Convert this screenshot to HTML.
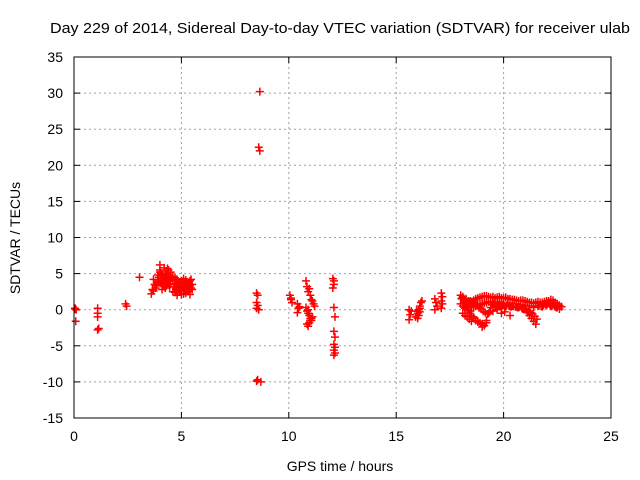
<!DOCTYPE html>
<html><head><meta charset="utf-8"><style>
body{margin:0;background:#fff}
svg{display:block;font-family:"Liberation Sans",sans-serif}
</style></head><body>
<svg id="c" width="640" height="480">
<text x="340" y="33" font-size="15" text-anchor="middle" textLength="580" lengthAdjust="spacingAndGlyphs">Day 229 of 2014, Sidereal Day-to-day VTEC variation (SDTVAR) for receiver ulab</text>
<text x="340" y="471" font-size="14" text-anchor="middle">GPS time / hours</text>
<text transform="translate(20,238) rotate(-90)" font-size="14" text-anchor="middle">SDTVAR / TECUs</text>
<g id="grid"></g><g id="ticks"></g><g id="marks"></g>
<rect x="74" y="57" width="537" height="361" fill="none" stroke="#000"/>
</svg>
<script>
const xTicks=[0,5,10,15,20,25];
const yTicks=[-15,-10,-5,0,5,10,15,20,25,30,35];
const hours=[0.05,0.1,0.05,0.08,
1.1,1.1,1.1,1.15,1.1,
2.4,2.45,3.05,
3.6,3.7,3.75,3.8,3.9,3.95,4.0,4.0,4.05,4.1,4.1,4.15,4.2,4.2,4.25,4.3,4.3,4.35,4.4,4.4,4.45,4.5,4.5,3.7,3.85,4.0,4.2,4.35,4.45,3.65,3.8,4.6,4.1,4.25,
3.9,4.0,4.1,4.2,4.3,4.4,4.5,4.55,3.95,4.05,4.15,4.25,4.35,4.45,
4.6,4.7,4.8,4.9,5.0,5.1,5.2,5.3,5.4,5.5,4.65,4.75,4.85,4.95,5.05,5.15,5.25,5.35,5.45,4.7,4.9,5.1,5.3,5.5,4.8,5.0,5.2,5.4,4.6,5.45,
4.7,4.8,4.9,5.0,5.1,5.2,5.3,5.4,4.75,4.95,5.15,5.35,
8.5,8.55,8.5,8.55,8.5,8.6,8.65,8.6,8.65,8.7,8.55,8.5,
10.05,10.1,10.15,10.1,10.4,10.45,10.4,10.5,
10.8,10.85,10.9,10.95,11.0,11.05,11.1,11.15,11.2,10.85,10.9,10.95,11.0,11.05,11.1,10.85,10.9,10.95,11.0,11.05,10.8,10.9,
12.05,12.1,12.1,12.05,12.1,12.15,12.1,12.15,12.1,12.15,12.1,12.15,12.1,
15.6,15.65,15.6,15.7,15.9,16.0,16.05,16.1,16.15,16.2,16.0,16.05,16.1,15.95,16.1,
16.8,16.85,16.9,16.8,17.1,17.15,17.1,17.15,17.1,
18.0,18.05,18.1,18.15,18.2,18.25,18.3,18.35,18.4,18.5,18.6,18.7,18.8,18.9,19.0,19.1,19.2,19.3,19.4,19.5,19.6,19.7,19.8,19.9,20.0,20.1,20.2,20.3,20.4,20.5,20.6,20.7,20.8,20.9,21.0,21.1,21.2,21.3,21.4,21.5,21.6,21.7,21.8,21.9,22.0,22.1,22.2,22.3,22.4,22.5,22.6,22.7,
18.0,18.1,18.2,18.3,18.4,18.5,18.6,18.7,18.8,18.9,19.0,19.1,19.2,19.3,19.4,19.5,19.6,19.7,19.8,19.9,20.0,20.2,20.4,20.6,20.8,21.0,21.2,21.4,21.6,21.8,22.0,22.2,22.4,22.6,
18.2,18.3,18.4,18.5,18.6,18.7,18.8,18.9,19.0,19.1,19.2,19.3,19.5,19.7,19.9,20.1,20.4,20.7,20.9,21.1,21.2,21.3,21.4,21.5,
18.1,18.2,18.3,18.4,18.5,18.6,18.8,19.0,19.2,19.4,19.6,19.8,20.0,20.3,20.6,21.0,21.4,21.8,22.2,22.5,
18.05,18.15,18.25,18.35,18.45,19.9,20.05,20.3,
19.45,19.55,19.65,19.75,19.85,19.95,20.05,20.15,20.25,20.35,20.45,20.55,20.65,20.75,20.85,20.95,21.05,21.15,21.25,21.35,21.45,21.55,21.65,21.75,21.85,21.95,22.05,22.15,22.25,22.35,22.45,
18.45,18.55,18.65,18.75,18.85,18.95,19.05,19.15,19.25,19.35];
const values=[0.2,0,0.1,-1.6,
0.2,-0.5,-1,-2.6,-2.8,
0.8,0.5,4.5,
2.2,2.6,3.5,3.0,4.0,4.5,6.2,5.5,5.0,4.2,3.6,4.5,5.8,3.2,4.8,4.0,3.3,5.7,5.5,4.0,3.2,5.2,3.5,4.2,3.3,3.8,3.4,4.5,3.6,2.8,3.4,4.6,2.8,3.0,
4.8,5.2,5.0,4.6,5.0,4.8,4.6,4.4,3.8,4.0,3.8,3.6,3.8,4.0,
4.0,4.4,4.2,3.8,4.0,4.3,4.1,3.8,4.0,3.5,3.2,2.8,3.0,3.4,3.3,2.9,3.1,2.8,3.0,2.4,2.6,2.2,2.5,2.8,2.0,2.1,2.3,2.1,2.5,4.2,
3.6,3.5,3.3,3.6,3.5,3.4,3.6,3.3,2.5,2.6,2.7,2.6,
2.3,2.0,1.0,0.6,0.2,0,30.2,22.5,22,-10,-9.7,-9.9,
2.0,1.4,1.0,1.6,0.8,0.2,-0.4,0.4,
4.0,3.2,2.5,2.9,2.0,1.4,1.2,0.8,0.5,-0.2,0,-0.8,-1.2,-1.5,-1.0,-2.0,-2.3,-1.8,-1.5,-1.2,0.3,-0.5,
4.3,4.0,3.5,3.0,0.3,-1.0,-3.0,-3.8,-4.8,-5.2,-5.6,-6.0,-6.3,
0,-0.7,-1.4,-0.2,-1.0,-0.5,0,0.5,1.0,1.2,-1.2,-0.8,-0.3,-0.2,0.2,
1.5,1.0,0.5,0,2.3,1.8,1.2,0.8,0.2,
2.0,1.6,1.8,1.4,1.2,1.5,1.0,1.2,0.9,1.1,1.3,1.5,1.6,1.7,1.8,1.9,1.9,1.8,1.7,1.8,1.6,1.7,1.8,1.6,1.6,1.7,1.5,1.5,1.4,1.4,1.3,1.2,1.3,1.3,1.2,1.1,1.0,1.0,0.9,1.0,1.1,1.0,1.0,1.1,1.2,1.2,1.4,1.3,1.0,0.8,0.6,0.4,
0.8,0.5,0.2,0.4,0.7,0.5,0.3,0.5,0.6,0.7,0.8,0.9,1.0,1.1,1.1,1.0,1.0,1.0,1.0,1.0,0.9,0.9,0.8,0.8,0.7,0.6,0.5,0.4,0.5,0.6,0.6,0.6,0.4,0.1,
0.2,0,-0.5,-0.8,-1.2,-1.5,-1.7,-1.8,-2.0,-2.2,-1.8,-0.5,-0.2,0,0.2,0.4,0.5,0.3,0.1,-0.4,-0.8,-1.2,-1.6,-2.0,
-0.5,-0.8,-1.0,-1.3,-1.6,-1.0,-1.6,-2.4,-1.5,0.3,0.4,0.5,0.6,0.5,0.4,0.2,0.3,0.4,0.5,0.3,
1.5,1.0,0.5,0.0,-0.2,-0.5,-0.3,-0.8,
0.7,0.8,0.6,0.7,0.6,0.6,0.5,0.6,0.5,0.4,0.5,0.4,0.3,0.4,0.2,0.1,0.0,-0.2,-0.4,-0.6,-0.9,-1.3,0.6,0.5,0.6,0.7,0.8,0.7,0.5,0.6,0.3,
1.2,1.0,0.8,0.6,0.3,0.1,-0.2,-0.4,-0.6,-0.3];
const X=t=>74+t*537/25, Y=v=>57+(35-v)*361/50;
const NS='http://www.w3.org/2000/svg';
const grid=document.getElementById('grid'),ticks=document.getElementById('ticks'),marks=document.getElementById('marks');
function mk(tag,a,p){const e=document.createElementNS(NS,tag);for(const k in a)e.setAttribute(k,a[k]);p.appendChild(e);return e;}
xTicks.forEach(t=>{const x=X(t);
 if(t>0&&t<25){const g=mk('line',{x1:x,x2:x,y1:57,y2:418,stroke:'#a0a0a0','stroke-dasharray':'2,3'},grid);
 
 }
 mk('line',{x1:x,x2:x,y1:418,y2:412,stroke:'#000'},ticks);mk('line',{x1:x,x2:x,y1:57,y2:63,stroke:'#000'},ticks);
 const l=mk('text',{x:x,y:441,'font-size':14,'text-anchor':'middle'},ticks);l.textContent=t;
 
 });
yTicks.forEach(v=>{const y=Y(v);
 if(v>-15&&v<35){const g=mk('line',{x1:74,x2:611,y1:y,y2:y,stroke:'#a0a0a0','stroke-dasharray':'2,3'},grid);
 
 }
 mk('line',{x1:74,x2:80,y1:y,y2:y,stroke:'#000'},ticks);mk('line',{x1:611,x2:605,y1:y,y2:y,stroke:'#000'},ticks);
 const l=mk('text',{x:63,y:y+5,'font-size':14,'text-anchor':'end'},ticks);l.textContent=v;
 
 });
hours.forEach((t,i)=>{const x=X(t),y=Y(values[i]);
 const p=mk('path',{d:`M${x-4},${y}h8M${x},${y-4}v8`,stroke:'#f00','stroke-width':1.5},marks);
 
 });
</script>
</body></html>
